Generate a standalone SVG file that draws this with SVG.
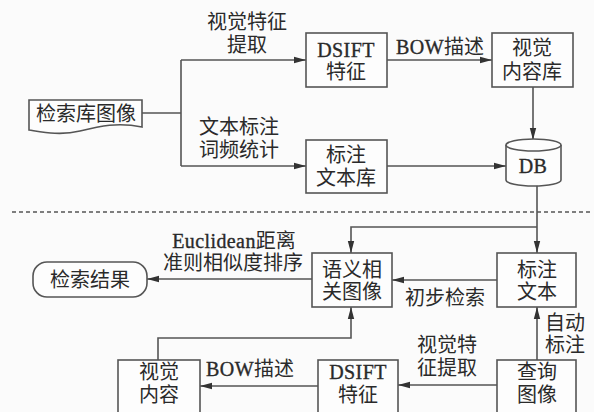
<svg xmlns="http://www.w3.org/2000/svg" width="594" height="412" viewBox="0 0 594 412">
<style>
.bx{fill:#fdfdfd;stroke:#555;stroke-width:1.6}
.ln{fill:none;stroke:#555;stroke-width:1.6}
.t{font-family:"Liberation Serif","Noto Sans CJK SC",serif;font-size:20px;fill:#2a2a2a;text-anchor:middle;dominant-baseline:central}
.lat{stroke:#2a2a2a;stroke-width:0.35;letter-spacing:0.4px}
</style>
<defs>
<marker id="ah" viewBox="0 0 12 8" refX="12" refY="4" markerWidth="12" markerHeight="8" markerUnits="userSpaceOnUse" orient="auto">
<path d="M0,0.8 L12,4 L0,7.2 Z" fill="#333"/>
</marker>
</defs>
<rect width="594" height="412" fill="#fbfbfb"/>
<line x1="12" y1="212" x2="590" y2="212" stroke="#555" stroke-width="1.3" stroke-dasharray="4 3"/>

<g id="connectors">
<path class="ln" d="M142,113 H181"/>
<path class="ln" d="M181,60 V166"/>
<path class="ln" d="M181,60 H306" marker-end="url(#ah)"/>
<path class="ln" d="M181,166 H306" marker-end="url(#ah)"/>
<path class="ln" d="M387,60 H492" marker-end="url(#ah)"/>
<path class="ln" d="M387,166 H506" marker-end="url(#ah)"/>
<path class="ln" d="M533,87 V140" marker-end="url(#ah)"/>
<path class="ln" d="M537,185 V253" marker-end="url(#ah)"/>
<path class="ln" d="M537,227 H351 V253" marker-end="url(#ah)"/>
<path class="ln" d="M497,280 H392" marker-end="url(#ah)"/>
<path class="ln" d="M312,279 H147" marker-end="url(#ah)"/>
<path class="ln" d="M537,360 V307" marker-end="url(#ah)"/>
<path class="ln" d="M497,385 H398" marker-end="url(#ah)"/>
<path class="ln" d="M318,386 H200" marker-end="url(#ah)"/>
<path class="ln" d="M158,360 V338 H351 V307" marker-end="url(#ah)"/>
<text class="t" x="247" y="22">视觉特征</text>
<text class="t" x="247" y="45">提取</text>
<text class="t" x="239" y="127">文本标注</text>
<text class="t" x="239" y="150">词频统计</text>
<text class="t" x="440" y="47"><tspan class="lat">BOW</tspan>描述</text>
<text class="t" x="234" y="241"><tspan class="lat">Euclidean</tspan>距离</text>
<text class="t" x="233" y="263">准则相似度排序</text>
<text class="t" x="445" y="298">初步检索</text>
<text class="t" x="565" y="323">自动</text>
<text class="t" x="565" y="345">标注</text>
<text class="t" x="447" y="345">视觉特</text>
<text class="t" x="447" y="368">征提取</text>
<text class="t" x="250" y="369"><tspan class="lat">BOW</tspan>描述</text>
</g>

<g id="n_query_lib">
<path class="bx" d="M29,100 H142 V127 C118,122 100,126 80,131 C60,136 42,132 29,130 Z"/>
<text class="t" x="86" y="114">检索库图像</text>
</g>
<g id="n_dsift_top">
<rect class="bx" x="306" y="33" width="81" height="54"/>
<text class="t" x="346" y="50"><tspan class="lat">DSIFT</tspan></text>
<text class="t" x="346" y="72">特征</text>
</g>
<g id="n_visual_lib">
<rect class="bx" x="492" y="33" width="81" height="54"/>
<text class="t" x="532" y="48">视觉</text>
<text class="t" x="532" y="72">内容库</text>
</g>
<g id="n_text_lib">
<rect class="bx" x="306" y="140" width="81" height="53"/>
<text class="t" x="346" y="155">标注</text>
<text class="t" x="346" y="178">文本库</text>
</g>
<g id="n_db">
<path class="bx" d="M506,145 V180 A27.5,6 0 0 0 561,180 V145"/>
<ellipse class="bx" cx="533.5" cy="145" rx="27.5" ry="6"/>
<text class="t" x="533" y="166"><tspan class="lat">DB</tspan></text>
</g>
<g id="n_result">
<rect class="bx" x="33" y="262" width="114" height="35" rx="14"/>
<text class="t" x="90" y="280">检索结果</text>
</g>
<g id="n_semantic">
<rect class="bx" x="312" y="253" width="80" height="54"/>
<text class="t" x="352" y="270">语义相</text>
<text class="t" x="352" y="292">关图像</text>
</g>
<g id="n_annot">
<rect class="bx" x="497" y="253" width="79" height="54"/>
<text class="t" x="537" y="270">标注</text>
<text class="t" x="537" y="292">文本</text>
</g>
<g id="n_visual">
<rect class="bx" x="118" y="360" width="82" height="56"/>
<text class="t" x="159" y="372">视觉</text>
<text class="t" x="159" y="395">内容</text>
</g>
<g id="n_dsift_bot">
<rect class="bx" x="318" y="360" width="80" height="56"/>
<text class="t" x="358" y="372"><tspan class="lat">DSIFT</tspan></text>
<text class="t" x="358" y="395">特征</text>
</g>
<g id="n_query">
<rect class="bx" x="497" y="360" width="79" height="56"/>
<text class="t" x="537" y="372">查询</text>
<text class="t" x="537" y="395">图像</text>
</g>
</svg>
